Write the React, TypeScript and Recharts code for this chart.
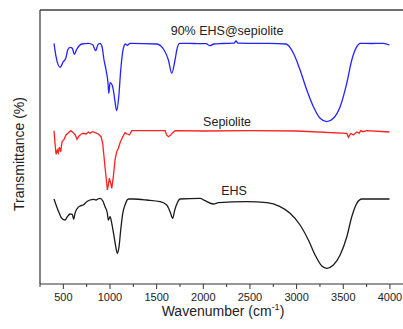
import React from 'react';
import { LineChart, Line, XAxis, YAxis, ReferenceDot, Label } from 'recharts';

// Wavenumbers (cm-1) and transmittance (a.u., offset-stacked)
const compositeW = [400, 422, 465, 500, 526, 547, 572, 596, 618, 644, 697, 768, 815, 847, 869, 893, 915, 936, 958, 979, 987, 1001, 1023, 1036, 1054, 1072, 1094, 1115, 1143, 1165, 1186, 1215, 1501, 1580, 1626, 1662, 1697, 1716, 1744, 1900, 2030, 2073, 2110, 2200, 2330, 2351, 2370, 2500, 2700, 2887, 2966, 3037, 3109, 3180, 3252, 3324, 3394, 3466, 3537, 3591, 3645, 3680, 3800, 3930, 3995];
const compositeT = [240.7, 227.3, 216.7, 222.3, 225.7, 234, 236.7, 235.7, 229.7, 234.7, 240, 240.7, 239.3, 233.3, 239, 240.7, 237.3, 224, 214, 200.7, 190.7, 201.3, 199, 194, 182.3, 173.3, 187.3, 214, 235.7, 240, 238.7, 240.7, 240, 234, 224, 210.7, 224, 234, 240.7, 240.5, 240.3, 238.3, 240, 240.5, 240.8, 243, 240.8, 240.7, 240.7, 240, 230.7, 214, 194, 177.3, 165.7, 162.3, 165.7, 177.3, 200.7, 224, 237.3, 240.7, 240.5, 240.7, 239];

const sepioliteW = [400, 411, 422, 436, 446, 457, 472, 486, 508, 529, 554, 579, 607, 629, 647, 668, 693, 714, 743, 768, 786, 815, 840, 875, 904, 922, 936, 950, 965, 972, 982, 993, 1008, 1019, 1036, 1054, 1072, 1090, 1108, 1137, 1161, 1186, 1208, 1233, 1590, 1608, 1626, 1651, 1672, 1697, 2000, 2500, 3000, 3538, 3555, 3581, 3608, 3645, 3669, 3688, 3710, 3752, 3995];
const sepioliteT = [153.3, 140.7, 129.7, 134, 131.3, 136.7, 132.3, 142.3, 144.7, 149, 151.3, 153.3, 151.3, 149, 144.7, 148, 150, 150.7, 150, 152, 150.7, 152.3, 151.3, 150, 147.3, 140.7, 127.3, 114, 100.7, 94, 99, 105.7, 100.7, 95.7, 107.3, 124, 132.3, 135.7, 141.3, 147.3, 151.3, 150, 149, 153.3, 153.3, 149, 147.3, 149, 151.3, 153.3, 153, 153.3, 153, 150.7, 146.7, 150.7, 149, 152, 150.7, 153.3, 152.3, 153.3, 152];

const ehsW = [400, 429, 457, 483, 518, 543, 572, 596, 611, 625, 650, 679, 714, 751, 786, 822, 851, 869, 893, 922, 947, 972, 982, 1001, 1019, 1044, 1065, 1079, 1097, 1115, 1137, 1161, 1197, 1250, 1394, 1537, 1608, 1644, 1672, 1694, 1722, 1751, 1965, 2019, 2108, 2162, 2466, 2680, 2823, 2930, 3037, 3126, 3198, 3270, 3324, 3394, 3466, 3538, 3591, 3645, 3700, 3995];
const ehsT = [85, 77.3, 70.7, 65.7, 64, 67.3, 70, 69.7, 64.7, 70.7, 75.7, 78, 79, 82.3, 84, 84.7, 84, 85, 85.7, 83.3, 77.3, 70.7, 64, 67.3, 60.7, 47.3, 35.7, 30.7, 37.3, 54, 70.7, 79, 85, 85, 84, 82.3, 79, 72.3, 65.7, 74, 81.3, 85, 85.7, 83.3, 80, 81.3, 82.3, 81.3, 77.3, 70.7, 59, 44, 29, 18, 15.7, 19, 29, 47.3, 67.3, 80.7, 85, 85];

const tickValues = [250, 500, 750, 1000, 1250, 1500, 1750, 2000, 2250, 2500, 2750, 3000, 3250, 3500, 3750, 4000];
const seriesNames = ['90% EHS@sepiolite', 'Sepiolite', 'EHS'];
const labelW = [2255, 2255, 2330];
const labelT = [253, 162, 93];

const toData = (w: number[], t: number[]) => w.map((x, i) => ({ w: x, t: t[i] }));
const compositeData = toData(compositeW, compositeT);
const sepioliteData = toData(sepioliteW, sepioliteT);
const ehsData = toData(ehsW, ehsT);

const FONT = 'Liberation Sans, Arial, sans-serif';

const XTick = (props: any) => {
  const { x, y, payload } = props;
  const v = payload.value as number;
  const major = v % 500 === 0;
  return (
    <g>
      <line x1={x} x2={x} y1={y} y2={y + (major ? 5 : 3)} stroke="#333" strokeWidth={1} />
      {major && (
        <text x={x} y={y + 17} textAnchor="middle" fontSize={11} fontFamily={FONT} fill="#222">
          {v}
        </text>
      )}
    </g>
  );
};

export default function App() {
  const colors = ['#2323ff', '#ff2020', '#1a1a1a'];
  return (
    <div style={{ position: 'absolute', left: 0, top: 0, width: 403, height: 329, overflow: 'hidden' }}>
      <LineChart width={403} height={329} margin={{ top: 9, right: 0, bottom: 15, left: 20 }}>
        <XAxis
          dataKey="w"
          type="number"
          domain={[250, 4140]}
          ticks={tickValues}
          interval={0}
          tickSize={0}
          tickMargin={0}
          tickLine={false}
          tick={<XTick />}
          height={30}
          axisLine={{ stroke: '#333', strokeWidth: 1.2 }}
          allowDataOverflow
        >
          <Label
            content={() => (
              <text x={223} y={316} textAnchor="middle" fontSize={14} fontFamily={FONT} fill="#222">
                Wavenumber (cm
                <tspan fontSize={9} dy={-6}>-1</tspan>
                <tspan dy={6}>)</tspan>
              </text>
            )}
          />
        </XAxis>
        <XAxis
          xAxisId="top"
          orientation="top"
          type="number"
          domain={[250, 4140]}
          height={1}
          tick={false}
          tickLine={false}
          axisLine={{ stroke: '#707070', strokeWidth: 2 }}
        />
        <YAxis
          type="number"
          domain={[0, 274]}
          width={20}
          tick={false}
          tickLine={false}
          axisLine={{ stroke: '#333', strokeWidth: 1.2 }}
        >
          <Label
            content={() => (
              <text
                x={19}
                y={154}
                transform="rotate(-90 19 154)"
                textAnchor="middle"
                dominantBaseline="central"
                fontSize={14}
                fontFamily={FONT}
                fill="#222"
              >
                Transmittance (%)
              </text>
            )}
          />
        </YAxis>
        <Line data={compositeData} dataKey="t" type="monotone" stroke={colors[0]} strokeWidth={1.3} dot={false} isAnimationActive={false} />
        <Line data={sepioliteData} dataKey="t" type="linear" stroke={colors[1]} strokeWidth={1.3} dot={false} isAnimationActive={false} />
        <Line data={ehsData} dataKey="t" type="monotone" stroke={colors[2]} strokeWidth={1.3} dot={false} isAnimationActive={false} />
        {seriesNames.map((n, i) => (
          <ReferenceDot
            key={n}
            x={labelW[i]}
            y={labelT[i]}
            r={0}
            fill="none"
            stroke="none"
            label={{ value: n, position: 'center', fontSize: 12.5, fontFamily: FONT, fill: '#222' }}
          />
        ))}
      </LineChart>
    </div>
  );
}
